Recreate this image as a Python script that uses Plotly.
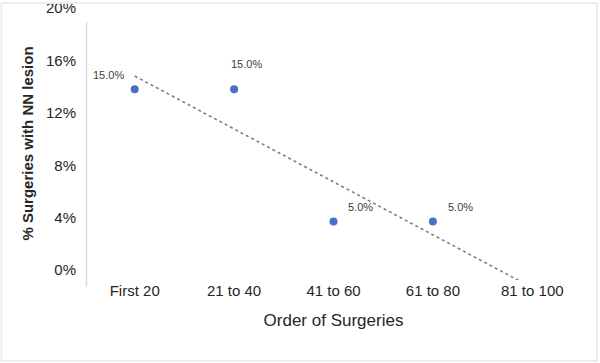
import numpy as np
import plotly.graph_objects as go

categories = ["First 20", "21 to 40", "41 to 60", "61 to 80", "81 to 100"]
x_pos = [1, 2, 3, 4, 5]
values = [13.8, 13.8, 3.7, 3.7]           # plotted positions (%)
value_labels = ["15.0%", "15.0%", "5.0%", "5.0%"]
y_ticks = [0, 4, 8, 12, 16, 20]
y_tick_text = ["0%", "4%", "8%", "12%", "16%", "20%"]

FONT = "Liberation Sans, Arial, sans-serif"
W, H = 600, 363
ML, MR, MT, MB = 87, 20, 7, 83
PW, PH = W - ML - MR, H - MT - MB

fig = go.Figure()

# linear trendline over all categories
coef = np.polyfit(x_pos[:len(values)], values, 1)
tx = [x_pos[0], x_pos[-1]]
ty = [coef[0] * t + coef[1] for t in tx]
fig.add_trace(go.Scatter(x=tx, y=ty, mode="lines",
                         line=dict(color="#7f7f7f", width=1.6, dash="dot"),
                         hoverinfo="skip", showlegend=False, cliponaxis=False))

fig.add_trace(go.Scatter(x=x_pos[:len(values)], y=values, mode="markers",
                         marker=dict(color="#4472C4", size=8),
                         showlegend=False, cliponaxis=False))

label_offsets = [(-26, 14), (12, 25), (27, 15), (28, 15)]
for xv, yv, lab, (dx, dy) in zip(x_pos, values, value_labels, label_offsets):
    fig.add_annotation(x=xv, y=yv, text=lab, showarrow=False,
                       xshift=dx, yshift=dy,
                       font=dict(family=FONT, size=11, color="#404040"))

def px_to_paper_x(px):
    return (px - ML) / PW

def px_to_paper_y(py):
    return (H - MB - py) / PH

# y axis line (extends slightly beyond the tick range)
fig.add_shape(type="line", xref="paper", yref="paper",
              x0=px_to_paper_x(86.5), x1=px_to_paper_x(86.5),
              y0=px_to_paper_y(287), y1=px_to_paper_y(22),
              line=dict(color="#d9d9d9", width=1.5))

# light chart border
fig.add_shape(type="rect", xref="paper", yref="paper",
              x0=px_to_paper_x(1.5), x1=px_to_paper_x(597),
              y0=px_to_paper_y(361), y1=px_to_paper_y(3),
              line=dict(color="#ececec", width=2))

fig.update_layout(
    width=W, height=H,
    margin=dict(l=ML, r=MR, t=MT, b=MB, pad=0, autoexpand=False),
    paper_bgcolor="white", plot_bgcolor="white",
    font=dict(family=FONT, color="#262626"),
    xaxis=dict(range=[0.52, 5.48], tickvals=x_pos, ticktext=categories,
               showgrid=False, zeroline=False, showline=False, automargin=False,
               ticks="", tickfont=dict(size=15, color="#262626"),
               ticklabeloverflow="allow",
               title=dict(text="Order of Surgeries",
                          font=dict(size=17, color="#262626"), standoff=16)),
    yaxis=dict(range=[-0.76, 20.08], tickvals=y_ticks, ticktext=y_tick_text,
               showgrid=False, zeroline=False, showline=False, automargin=False,
               ticks="", ticklabelstandoff=10, ticklabeloverflow="allow",
               tickfont=dict(size=15, color="#262626"),
               title=dict(text="<b>% Surgeries with NN lesion</b>",
                          font=dict(size=15, color="#262626"), standoff=8)),
)

fig.write_html("out.html", config={"displayModeBar": False},
               post_script="document.body.style.margin='0';document.body.style.overflow='hidden';")
